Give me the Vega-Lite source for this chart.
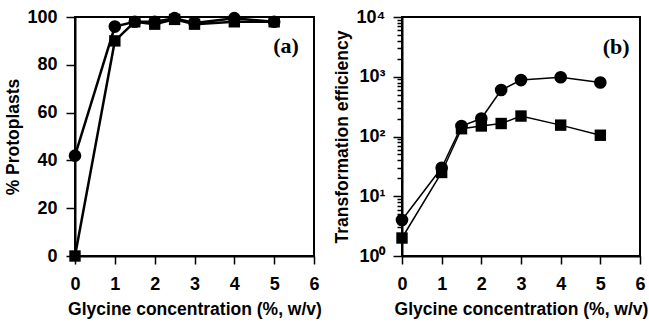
{
  "$schema": "https://vega.github.io/schema/vega-lite/v6.json",
  "background": "white",
  "padding": {"left": 3, "top": 7, "right": 0, "bottom": 0},
  "spacing": 9,
  "config": {
    "view": {"stroke": "black", "strokeWidth": 2},
    "axis": {
      "domainColor": "black", "domainWidth": 2, "tickColor": "black", "tickWidth": 1.5,
      "labelFont": "Liberation Sans", "labelFontWeight": "bold", "labelFontSize": 18, "labelColor": "black",
      "titleFont": "Liberation Sans", "titleFontWeight": "bold", "titleFontSize": 17.5, "titleColor": "black",
      "labelOverlap": false, "labelFlush": false,
      "grid": false
    }
  },
  "datasets": {
    "a": [
      {"series": "circle", "x": 0, "y": 42}, {"series": "circle", "x": 1, "y": 96}, {"series": "circle", "x": 1.5, "y": 98},
      {"series": "circle", "x": 2, "y": 98}, {"series": "circle", "x": 2.5, "y": 99.5}, {"series": "circle", "x": 3, "y": 97.5},
      {"series": "circle", "x": 4, "y": 99.5}, {"series": "circle", "x": 5, "y": 98},
      {"series": "square", "x": 0, "y": 0}, {"series": "square", "x": 1, "y": 90}, {"series": "square", "x": 1.5, "y": 98},
      {"series": "square", "x": 2, "y": 97}, {"series": "square", "x": 2.5, "y": 99}, {"series": "square", "x": 3, "y": 97},
      {"series": "square", "x": 4, "y": 98}, {"series": "square", "x": 5, "y": 98}
    ],
    "b": [
      {"series": "circle", "x": 0, "y": 4}, {"series": "circle", "x": 1, "y": 30}, {"series": "circle", "x": 1.5, "y": 150},
      {"series": "circle", "x": 2, "y": 200}, {"series": "circle", "x": 2.5, "y": 600}, {"series": "circle", "x": 3, "y": 880},
      {"series": "circle", "x": 4, "y": 980}, {"series": "circle", "x": 5, "y": 800},
      {"series": "square", "x": 0, "y": 2}, {"series": "square", "x": 1, "y": 25}, {"series": "square", "x": 1.5, "y": 135},
      {"series": "square", "x": 2, "y": 150}, {"series": "square", "x": 2.5, "y": 165}, {"series": "square", "x": 3, "y": 220},
      {"series": "square", "x": 4, "y": 155}, {"series": "square", "x": 5, "y": 105}
    ],
    "labA": [{"label": "(a)", "x": 5.3, "y": 88}],
    "labB": [{"label": "(b)", "x": 5.4, "y": 3150}]
  },
  "hconcat": [
    {
      "width": 239, "height": 239,
      "encoding": {
        "x": {"field": "x", "type": "quantitative", "scale": {"domain": [0, 6], "nice": false},
              "axis": {"title": "Glycine concentration (%, w/v)", "values": [0,1,2,3,4,5,6], "tickSize": 8, "labelPadding": 11, "titlePadding": 7}},
        "y": {"field": "y", "type": "quantitative", "scale": {"domain": [0, 100], "nice": false},
              "axis": {"title": "% Protoplasts", "values": [0,20,40,60,80,100], "tickSize": 9, "labelPadding": 9, "titlePadding": 4}}
      },
      "layer": [
        {
          "data": {"name": "a"},
          "mark": {"type": "line", "color": "black", "strokeWidth": 2.5},
          "encoding": {"detail": {"field": "series"}}
        },
        {
          "data": {"name": "a"},
          "mark": {"type": "point", "filled": true, "color": "black", "opacity": 1},
          "encoding": {
            "shape": {"field": "series", "type": "nominal", "scale": {"domain": ["circle", "square"], "range": ["circle", "square"]}, "legend": null},
            "size": {"field": "series", "type": "nominal", "scale": {"domain": ["circle", "square"], "range": [160, 130]}, "legend": null}
          }
        },
        {
          "data": {"name": "labA"},
          "mark": {"type": "text", "font": "Liberation Serif", "fontWeight": "bold", "fontSize": 22, "color": "black"},
          "encoding": {"text": {"field": "label"}}
        }
      ]
    },
    {
      "width": 238, "height": 239,
      "encoding": {
        "x": {"field": "x", "type": "quantitative", "scale": {"domain": [0, 6], "nice": false},
              "axis": {"title": "Glycine concentration (%, w/v)", "values": [0,1,2,3,4,5,6], "tickSize": 8, "labelPadding": 11, "titlePadding": 7}},
        "y": {"field": "y", "type": "quantitative", "scale": {"type": "log", "domain": [1, 10000], "nice": false},
              "axis": {"title": "Transformation efficiency",
                       "values": [1,2,3,4,5,6,7,8,9,10,20,30,40,50,60,70,80,90,100,200,300,400,500,600,700,800,900,1000,2000,3000,4000,5000,6000,7000,8000,9000,10000],
                       "labelExpr": "indexof([1,10,100,1000,10000], datum.value) >= 0 ? '10' + ['⁰','¹','²','³','⁴'][indexof([1,10,100,1000,10000], datum.value)] : ''",
                       "tickSize": {"condition": {"test": "indexof([1,10,100,1000,10000], datum.value) < 0", "value": 5}, "value": 9},
                       "labelPadding": 8, "titlePadding": 5}}
      },
      "layer": [
        {
          "data": {"name": "b"},
          "mark": {"type": "line", "color": "black", "strokeWidth": 1.5},
          "encoding": {"detail": {"field": "series"}}
        },
        {
          "data": {"name": "b"},
          "mark": {"type": "point", "filled": true, "color": "black", "opacity": 1},
          "encoding": {
            "shape": {"field": "series", "type": "nominal", "scale": {"domain": ["circle", "square"], "range": ["circle", "square"]}, "legend": null},
            "size": {"field": "series", "type": "nominal", "scale": {"domain": ["circle", "square"], "range": [200, 160]}, "legend": null}
          }
        },
        {
          "data": {"name": "labB"},
          "mark": {"type": "text", "font": "Liberation Serif", "fontWeight": "bold", "fontSize": 22, "color": "black"},
          "encoding": {"text": {"field": "label"}}
        }
      ]
    }
  ]
}
